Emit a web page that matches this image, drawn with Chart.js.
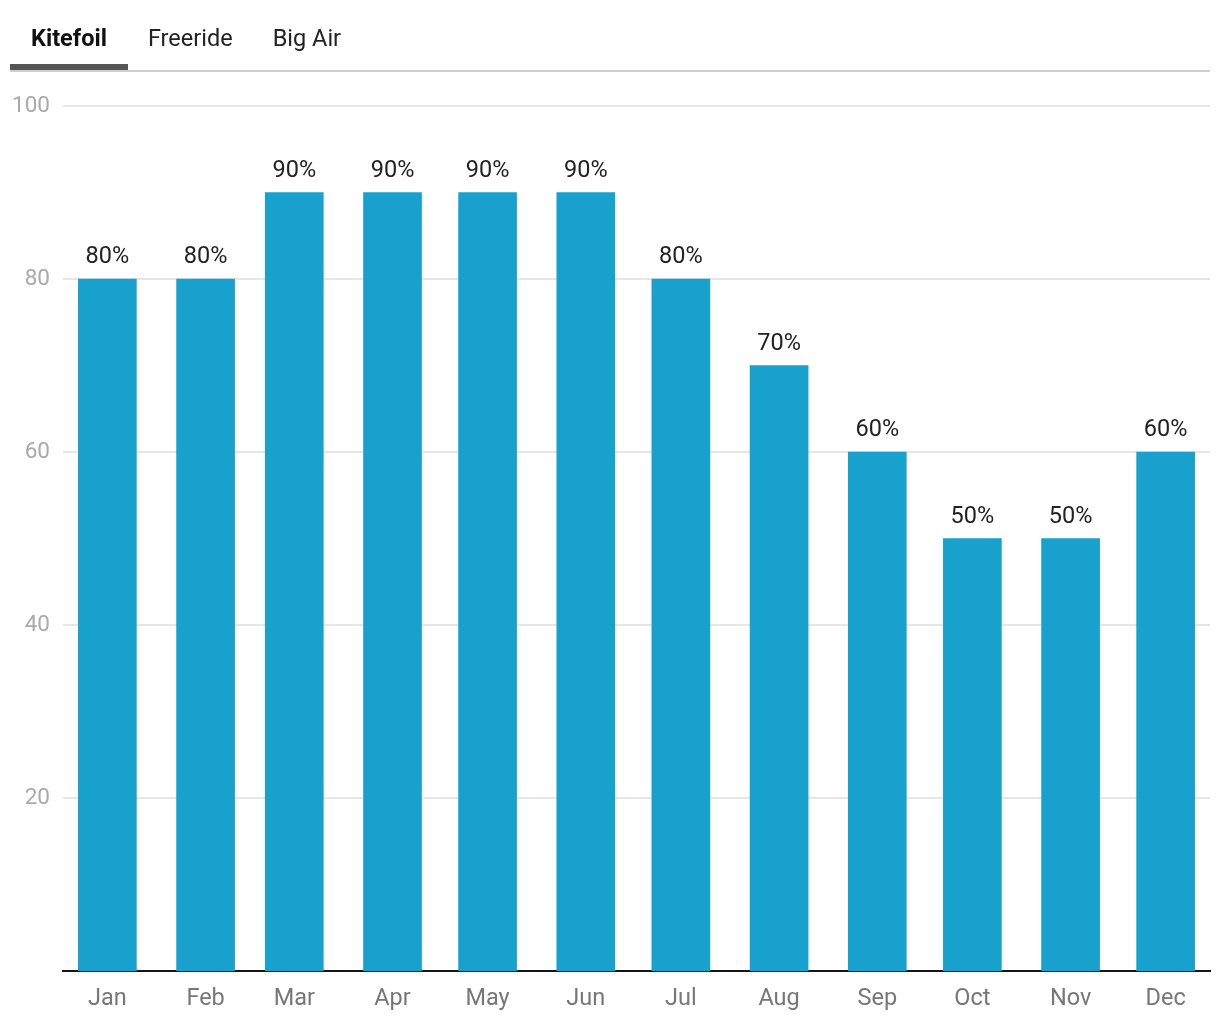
<!DOCTYPE html>
<html>
<head>
<meta charset="utf-8">
<script src="https://cdn.jsdelivr.net/npm/chart.js@4/dist/chart.umd.min.js"></script>
<style>
  html, body { margin: 0; padding: 0; background: #fff; }
  body { width: 1220px; height: 1020px; position: relative; overflow: hidden; font-family: Roboto, sans-serif; }
  #tabs { position: absolute; left: 10px; top: 0; width: 1200px; height: 72px; border-bottom: 2px solid #cfcfcf; box-sizing: border-box; display: flex; }
  #tabs .tab { font-size: 23.5px; color: #222; padding: 0 20px; line-height: 76px; height: 70px; box-sizing: border-box; }
  #tabs .tab.active { font-weight: bold; color: #111; border-bottom: 6px solid #555; padding: 0 21px; }
  #wrap { position: absolute; left: 0; top: 0; width: 1220px; height: 1020px; }
</style>
</head>
<body>
<div id="wrap"><canvas id="chart"></canvas></div>
<div id="tabs">
  <div class="tab active">Kitefoil</div>
  <div class="tab">Freeride</div>
  <div class="tab">Big Air</div>
</div>
<script>
// chart data
var months = ['Jan', 'Feb', 'Mar', 'Apr', 'May', 'Jun', 'Jul', 'Aug', 'Sep', 'Oct', 'Nov', 'Dec'];
var dates = ['2023-01-15', '2023-02-15', '2023-03-15', '2023-04-15', '2023-05-15', '2023-06-15',
             '2023-07-15', '2023-08-15', '2023-09-15', '2023-10-15', '2023-11-15', '2023-12-15'];
var kitefoil = [80, 80, 90, 90, 90, 90, 80, 70, 60, 50, 50, 60];
var yTicks = [20, 40, 60, 80, 100];

// day of year for each date (time-like x axis)
function dayOfYear(s) {
    var d = new Date(s + 'T00:00:00Z');
    var start = Date.UTC(d.getUTCFullYear(), 0, 1);
    return Math.round((d.getTime() - start) / 86400000);
}
var days = dates.map(dayOfYear);
var xMin = dayOfYear('2023-01-01');
var xMax = dayOfYear('2023-12-29');

var points = days.map(function (d, i) { return { x: d, y: kitefoil[i] }; });

// percent labels on top of bars
var barLabels = {
    id: 'barLabels',
    afterDatasetsDraw: function (chart) {
        var ctx = chart.ctx;
        var meta = chart.getDatasetMeta(0);
        ctx.save();
        ctx.font = '23.5px Roboto, sans-serif';
        ctx.fillStyle = '#222';
        ctx.textAlign = 'center';
        ctx.textBaseline = 'bottom';
        meta.data.forEach(function (bar, i) {
            ctx.fillText(kitefoil[i] + '%', bar.x, bar.y - 10);
        });
        ctx.restore();
    }
};

new Chart(document.getElementById('chart'), {
    type: 'bar',
    data: {
        datasets: [{
            label: 'Kitefoil',
            data: points,
            backgroundColor: '#19a1cd',
            barThickness: 58
        }]
    },
    options: {
        responsive: true,
        maintainAspectRatio: false,
        animation: false,
        layout: { padding: { top: 106, right: 10, bottom: 0, left: 0 } },
        plugins: {
            legend: { display: false },
            tooltip: { enabled: false }
        },
        scales: {
            x: {
                type: 'linear',
                offset: false,
                min: xMin,
                max: xMax,
                afterBuildTicks: function (scale) {
                    scale.ticks = days.map(function (d) { return { value: d }; });
                },
                afterFit: function (scale) { scale.height = 49; },
                grid: { display: false, drawTicks: false },
                border: { display: true, color: '#151515', width: 2 },
                ticks: {
                    autoSkip: false,
                    maxRotation: 0,
                    padding: 14,
                    color: '#777',
                    font: { family: 'Roboto', size: 23.5 },
                    callback: function (value, index) { return months[index]; }
                }
            },
            y: {
                min: 0,
                max: 100,
                afterBuildTicks: function (scale) {
                    scale.ticks = yTicks.map(function (v) { return { value: v }; });
                },
                afterFit: function (scale) { scale.width = 63; },
                grid: { color: '#e6e6e6', lineWidth: 2, drawTicks: false },
                border: { display: false },
                ticks: {
                    padding: 13,
                    color: '#aaa',
                    font: { family: 'Roboto', size: 22.5 }
                }
            }
        }
    },
    plugins: [barLabels]
});
</script>
</body>
</html>
